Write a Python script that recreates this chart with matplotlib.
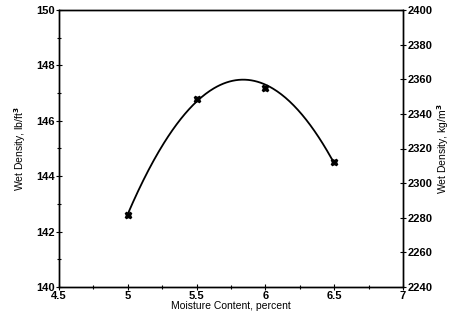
import matplotlib.pyplot as plt
import numpy as np
from matplotlib.ticker import MultipleLocator

plt.rcParams['font.family'] = ['Liberation Sans', 'DejaVu Sans']
plt.rcParams['font.weight'] = 'bold'

## measured points
moisture = [5.0, 5.5, 6.0, 6.5]
density_pcf = [142.6, 146.8, 147.2, 144.5]

# quadratic fit through the points
coef = np.polyfit(moisture, density_pcf, 2)
xs = np.linspace(min(moisture), max(moisture), 200)
ys = np.polyval(coef, xs)

fig = plt.figure(figsize=(4.54, 3.2), dpi=100)
ax = fig.add_axes([59/454, 1 - 287/320, (403 - 59)/454, (287 - 10)/320])

ax.plot(xs, ys, color='black', lw=1.3)
ax.plot(moisture, density_pcf, ls='none', marker='X', ms=5, color='black')

ax.set_xlim(4.5, 7)
ax.set_ylim(140, 150)
ax.xaxis.set_major_locator(MultipleLocator(0.5))
ax.xaxis.set_minor_locator(MultipleLocator(0.25))
ax.yaxis.set_major_locator(MultipleLocator(2))
ax.yaxis.set_minor_locator(MultipleLocator(1))
ax.set_xticks([4.5, 5, 5.5, 6, 6.5, 7])
ax.set_xticklabels(['4.5', '5', '5.5', '6', '6.5', '7'])
ax.tick_params(which='both', direction='inout', labelsize=8, width=0.8)
ax.tick_params(which='major', length=4, pad=1)
ax.tick_params(which='minor', length=2.5)
ax.set_xlabel('Moisture Content, percent', fontsize=7.5, labelpad=0)
ax.set_ylabel('Wet Density, lb/ft$^\\mathbf{3}$', fontsize=7.5, labelpad=6)

ax2 = ax.twinx()
ax2.set_ylim(2240, 2400)
ax2.yaxis.set_major_locator(MultipleLocator(20))
ax2.tick_params(direction='inout', labelsize=8, length=4, width=0.8, pad=1)
ax2.set_ylabel('Wet Density, kg/m$^\\mathbf{3}$', fontsize=7.5, labelpad=2)

for a in (ax, ax2):
    for s in a.spines.values():
        s.set_linewidth(1.0)

fig.savefig('out.png', dpi=100)
